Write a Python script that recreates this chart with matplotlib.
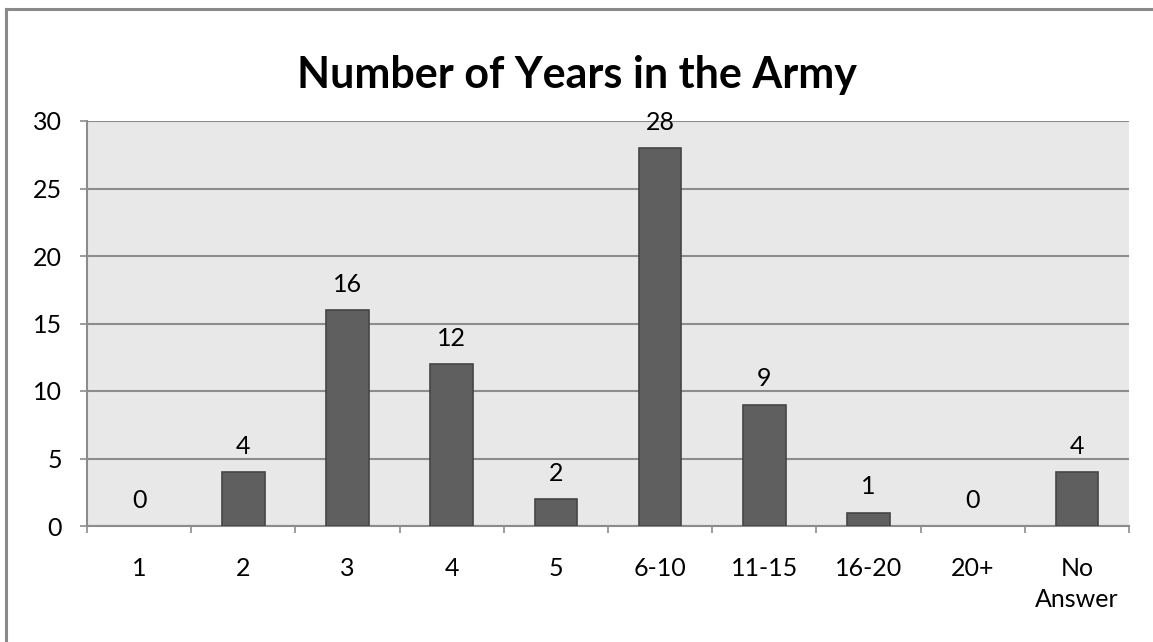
import matplotlib.pyplot as plt
from matplotlib.lines import Line2D
import numpy as np

categories = ["1", "2", "3", "4", "5", "6-10", "11-15", "16-20", "20+", "No\nAnswer"]
counts = [0, 4, 16, 12, 2, 28, 9, 1, 0, 4]
y_ticks = [0, 5, 10, 15, 20, 25, 30]

plt.rcParams['font.family'] = ['Lato', 'DejaVu Sans']

fig = plt.figure(figsize=(11.53, 6.42), dpi=100)
ax = fig.add_axes([87/1153, 1 - 526/642, 1042/1153, 405/642])

x = np.arange(len(categories))
# empty categories get no outline so nothing shows on the axis
edge_w = [1.2 if v > 0 else 0 for v in counts]
ax.bar(x, counts, width=0.41, color='#5f5f5f', edgecolor='#454545', linewidth=edge_w, zorder=3)

for xi, v in zip(x, counts):
    ax.text(xi, v + 1.9, str(v), ha='center', va='center', fontsize=18, zorder=4)

ax.set_facecolor('#e8e8e8')
ax.set_xlim(-0.5, len(categories) - 0.5)
ax.set_ylim(0, 30)
ax.set_yticks(y_ticks)
ax.set_yticklabels([str(t) for t in y_ticks], fontsize=18)
ax.yaxis.grid(True, color='#8c8c8c', linewidth=1.5, zorder=1)
ax.set_axisbelow(True)

# category labels sit between the boundary ticks
ax.set_xticks(list(x - 0.5) + [len(categories) - 0.5])
ax.set_xticklabels([])
ax.set_xticks(x, minor=True)
ax.set_xticklabels(categories, minor=True, fontsize=18, linespacing=1.45, va='top')
ax.tick_params(axis='x', which='minor', length=0, pad=22)
ax.tick_params(axis='x', which='major', length=5, width=1.2, color='#8c8c8c', direction='out')
ax.tick_params(axis='y', length=5, width=1.2, color='#8c8c8c', direction='out', pad=13)

for side in ['top', 'right']:
    ax.spines[side].set_visible(False)
for side in ['left', 'bottom']:
    ax.spines[side].set_color('#8c8c8c')
    ax.spines[side].set_linewidth(1.5)

fig.text(0.5, 1 - 75/642, "Number of Years in the Army", ha='center', va='center',
         fontsize=31, fontweight='bold')

# outer chart frame
fig.add_artist(Line2D([6/1153, 6/1153], [0, 1 - 9/642], color='#8a8a8a', linewidth=2.2))
fig.add_artist(Line2D([6/1153, 1], [1 - 9/642, 1 - 9/642], color='#8a8a8a', linewidth=2.2))

fig.savefig('out.png', dpi=100, facecolor='white')
